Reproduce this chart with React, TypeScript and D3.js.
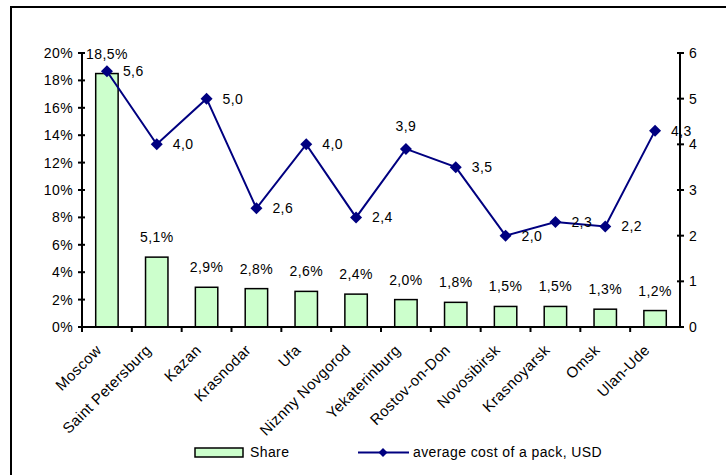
import React from "react";
import * as d3 from "d3";

const cities = [
  "Moscow",
  "Saint Petersburg",
  "Kazan",
  "Krasnodar",
  "Ufa",
  "Nizhny Novgorod",
  "Yekaterinburg",
  "Rostov-on-Don",
  "Novosibirsk",
  "Krasnoyarsk",
  "Omsk",
  "Ulan-Ude",
];
const cityLabels = [
  "Moscow",
  "Saint Petersburg",
  "Kazan",
  "Krasnodar",
  "Ufa",
  "Niznny Novgorod",
  "Yekaterinburg",
  "Rostov-on-Don",
  "Novosibirsk",
  "Krasnoyarsk",
  "Omsk",
  "Ulan-Ude",
];
const share = [18.5, 5.1, 2.9, 2.8, 2.6, 2.4, 2.0, 1.8, 1.5, 1.5, 1.3, 1.2];
const cost = [5.6, 4.0, 5.0, 2.6, 4.0, 2.4, 3.9, 3.5, 2.0, 2.3, 2.2, 4.3];
const leftTicks = [0, 2, 4, 6, 8, 10, 12, 14, 16, 18, 20];
const rightTicks = [0, 1, 2, 3, 4, 5, 6];
const shareName = "Share";
const costName = "average cost of a pack, USD";

const W = 726;
const H = 475;
const FONT = "'Liberation Sans', Arial, sans-serif";
const FS = 14;
const LS = "0.4px";
const LINE = "#000080";
const BAR = "#ccffcc";

const fmt1 = (v: number) => v.toFixed(1).replace(".", ",");

export default function App() {
  const left = 82;
  const right = 680;
  const top = 53;
  const bottom = 327;

  const x = d3.scaleBand<string>().domain(cities).range([left, right]).padding(0);
  const yL = d3.scaleLinear().domain([0, 20]).range([bottom, top]);
  const yR = d3.scaleLinear().domain([0, 6]).range([bottom, top]);
  const bw = x.bandwidth();
  const barW = bw * 0.45;
  const cx = (c: string) => (x(c) as number) + bw / 2;

  const linePath = d3
    .line<number>()
    .x((_, i) => cx(cities[i]))
    .y((d) => yR(d))(cost) as string;

  const diamond = (px: number, py: number, r: number) =>
    `M${px},${py - r}L${px + r},${py}L${px},${py + r}L${px - r},${py}Z`;

  const labelAbove = new Set(["Yekaterinburg"]);

  return (
    <svg
      width={W}
      height={H}
      style={{ position: "absolute", left: 0, top: 0, background: "#fff" }}
      fontFamily={FONT}
      letterSpacing={LS}
    >
      <rect x={0} y={0} width={W} height={H} fill="#fff" />
      {/* outer border (cropped) */}
      <rect x={11} y={7} width={W + 20} height={H + 20} fill="none" stroke="#000" strokeWidth={2} />

      {/* bars */}
      {cities.map((c, i) => (
        <rect
          key={c}
          x={cx(c) - barW / 2}
          y={yL(share[i])}
          width={barW}
          height={bottom - yL(share[i])}
          fill={BAR}
          stroke="#000"
          strokeWidth={1.5}
        />
      ))}

      {/* left axis */}
      <line x1={left} x2={left} y1={top} y2={bottom} stroke="#000" strokeWidth={2} />
      {leftTicks.map((t) => (
        <g key={"l" + t}>
          <line x1={left - 4} x2={left + 3} y1={yL(t)} y2={yL(t)} stroke="#000" strokeWidth={2} />
          <text x={left - 9} y={yL(t)} dy="0.35em" textAnchor="end" fontSize={FS}>
            {t}%
          </text>
        </g>
      ))}

      {/* right axis */}
      <line x1={right} x2={right} y1={top} y2={bottom} stroke="#000" strokeWidth={2} />
      {rightTicks.map((t) => (
        <g key={"r" + t}>
          <line x1={right - 3} x2={right + 4} y1={yR(t)} y2={yR(t)} stroke="#000" strokeWidth={2} />
          <text x={right + 9} y={yR(t)} dy="0.35em" textAnchor="start" fontSize={FS}>
            {t}
          </text>
        </g>
      ))}

      {/* x axis */}
      <line x1={left} x2={right} y1={bottom} y2={bottom} stroke="#000" strokeWidth={2} />
      {cities.map((c) => (
        <line
          key={"xt" + c}
          x1={x(c) as number}
          x2={x(c) as number}
          y1={bottom}
          y2={bottom + 5}
          stroke="#000"
          strokeWidth={2}
        />
      ))}
      {cities.map((c, i) => (
        <text
          key={"xl" + c}
          transform={`translate(${cx(c) - 4.5},${bottom + 24}) rotate(-45)`}
          textAnchor="end"
          fontSize={15}
        >
          {cityLabels[i]}
        </text>
      ))}

      {/* bar labels */}
      {cities.map((c, i) => (
        <text
          key={"bl" + c}
          x={cx(c)}
          y={yL(share[i]) - 15}
          textAnchor="middle"
          fontSize={FS}
        >
          {fmt1(share[i])}%
        </text>
      ))}

      {/* line */}
      <path d={linePath} fill="none" stroke={LINE} strokeWidth={2} />
      {cities.map((c, i) => (
        <path key={"m" + c} d={diamond(cx(c), yR(cost[i]), 6)} fill={LINE} />
      ))}
      {cities.map((c, i) =>
        labelAbove.has(c) ? (
          <text key={"ll" + c} x={cx(c)} y={yR(cost[i]) - 18} textAnchor="middle" fontSize={FS}>
            {fmt1(cost[i])}
          </text>
        ) : (
          <text
            key={"ll" + c}
            x={cx(c) + 16}
            y={yR(cost[i])}
            dy="0.35em"
            textAnchor="start"
            fontSize={FS}
          >
            {fmt1(cost[i])}
          </text>
        )
      )}

      {/* legend */}
      <rect x={195} y={448} width={48} height={9} fill={BAR} stroke="#000" strokeWidth={1.5} />
      <text x={250} y={452.5} dy="0.35em" fontSize={FS}>
        {shareName}
      </text>
      <line x1={358} x2={409} y1={452.5} y2={452.5} stroke={LINE} strokeWidth={2} />
      <path d={diamond(383, 452.5, 4.5)} fill={LINE} />
      <text x={413} y={452.5} dy="0.35em" fontSize={FS}>
        {costName}
      </text>
    </svg>
  );
}
